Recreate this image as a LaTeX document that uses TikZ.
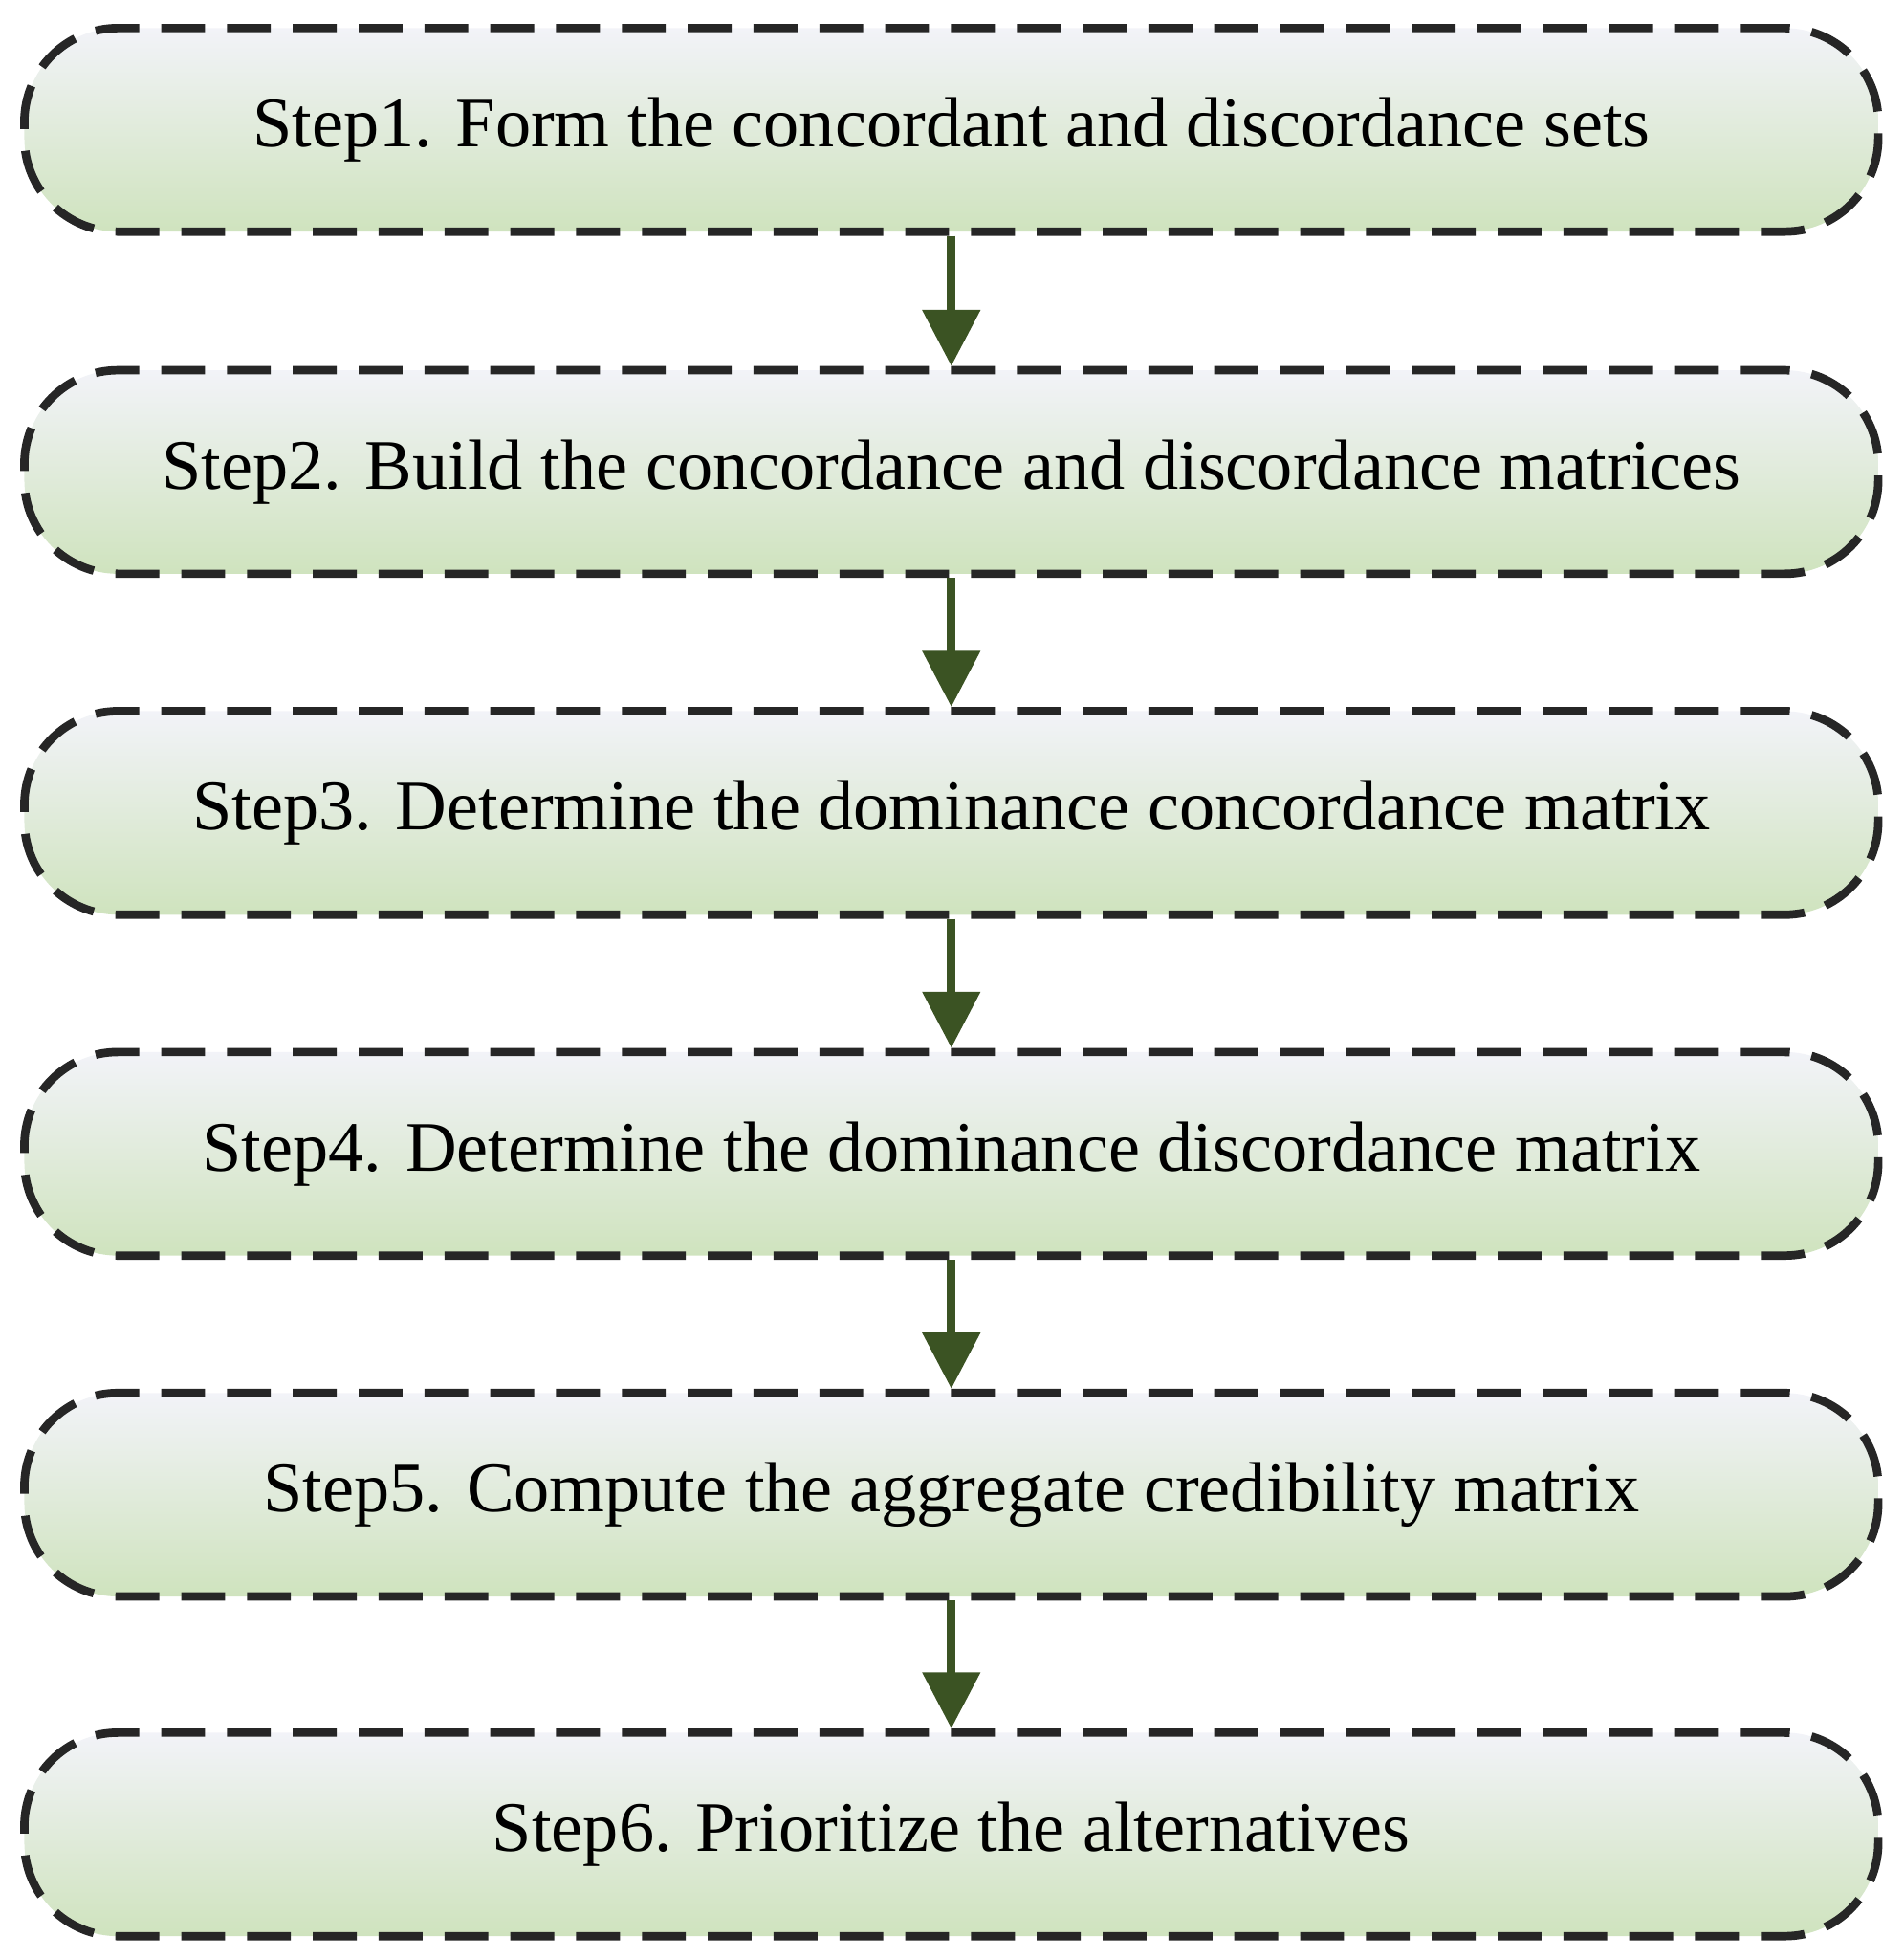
\documentclass[tikz,border=0pt]{standalone}
\usepackage{fontspec}
\setmainfont{Liberation Serif}
\usetikzlibrary{arrows.meta,shadings}
\definecolor{arrowgreen}{HTML}{3B5323}
\definecolor{boxtop}{HTML}{F2F3F8}
\definecolor{boxbottom}{HTML}{CFE3BE}
\begin{document}
\begin{tikzpicture}[
		stepbox/.style={draw=black!85, line width=1.9pt, dash pattern=on 10pt off 5pt,
			rounded corners=0.75cm, minimum width=14.85cm, minimum height=1.63cm,
			top color=boxtop, bottom color=boxbottom,
			font=\fontsize{16.2}{19}\selectfont},
		flow/.style={draw=arrowgreen, line width=2pt,
			-{Triangle[width=0.45cm,length=0.45cm]}}
	]
		\useasboundingbox (0, 0) rectangle (15.25, -15.68);
		
		\node[stepbox] (S1) at (7.62, -1.04) {Step1. Form the concordant and discordance sets};
		\node[stepbox] (S2) at (7.62, -3.78) {Step2. Build the concordance and discordance matrices};
		\node[stepbox] (S3) at (7.62, -6.51) {Step3. Determine the dominance concordance matrix};
		\node[stepbox] (S4) at (7.62, -9.24) {Step4. Determine the dominance discordance matrix};
		\node[stepbox] (S5) at (7.62, -11.97) {Step5. Compute the aggregate credibility matrix};
		\node[stepbox] (S6) at (7.62, -14.69) {Step6. Prioritize the alternatives};
		
		\foreach \a/\b in {S1/S2, S2/S3, S3/S4, S4/S5, S5/S6}
			\draw[flow] (\a.south) -- (\b.north);
	\end{tikzpicture}
\end{document}
